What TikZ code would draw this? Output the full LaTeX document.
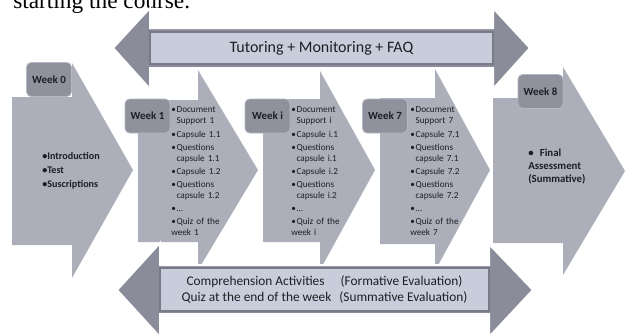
\documentclass[tikz,border=0pt]{standalone}
\usepackage{fontspec}
\setmainfont{Carlito}
\newfontfamily\paperfont{Liberation Serif}
\usepackage{tikz}
\usetikzlibrary{positioning}
\definecolor{chevGray}{RGB}{172,175,186}
\definecolor{labGray}{RGB}{143,146,157}
\definecolor{labEdge}{RGB}{182,185,195}
\definecolor{headGray}{RGB}{138,141,153}
\definecolor{bandFill}{RGB}{200,205,220}
\definecolor{bandEdge}{RGB}{120,123,135}
\definecolor{inkGray}{RGB}{30,30,35}
% bullet item with hanging indent (break lines with \newline)
\newcommand{\itm}[1][4pt]{\par\hangindent=#1\hangafter=1\noindent\makebox[#1][l]{\textbullet}}

\begin{document}
\begin{tikzpicture}[
            x=0.75pt, y=-0.75pt,
            % Define Block Styles
            chev/.style={
                fill=chevGray,
                draw=none
            },
            bigarrow/.style={
                fill=headGray,
                draw=white,
                line width=1.5pt
            },
            wklabel/.style={
                rectangle,
                rounded corners=3.5pt,
                fill=labGray,
                draw=labEdge,
                line width=0.6pt,
                minimum width=33.75pt,
                minimum height=25.5pt,
                inner sep=0pt,
                text=inkGray,
                font=\fontsize{8.2}{10}\selectfont\bfseries
            },
            wklist/.style={
                anchor=north west,
                inner sep=0pt,
                text width=42pt,
                align=left,
                text=inkGray,
                font=\fontsize{6.9}{8.25}\selectfont\setlength{\parskip}{1.6pt}
            },
            band/.style={
                rectangle,
                fill=bandFill,
                draw=bandEdge,
                line width=0.8pt,
                inner sep=0pt,
                text=inkGray,
                align=center
            }
        ]
        \useasboundingbox (0,0) rectangle (628,333);
        \clip (0,0) rectangle (628,333);

        % --- Cut-off caption line of the page ---
        \node [anchor=base west, inner sep=0pt, font=\paperfont\fontsize{17.5}{20}\selectfont] (caption) at (13,8.5) {starting the course.};

        % --- Week chevrons ---
        \path [chev] (12,97) -- (72,97) -- (72,63) -- (133,170) -- (72,278) -- (72,245) -- (12,245) -- cycle;
        \path [chev] (138,100) -- (198,100) -- (198,70) -- (258,170) -- (198,270) -- (198,242) -- (138,242) -- cycle;
        \path [chev] (263,99) -- (320,99) -- (320,71) -- (375,170) -- (320,270) -- (320,242) -- (263,242) -- cycle;
        \path [chev] (380,98) -- (435,98) -- (435,69) -- (490,170) -- (435,271) -- (435,244) -- (380,244) -- cycle;
        \path [chev] (493,98) -- (563,98) -- (563,67) -- (625,171) -- (563,275) -- (563,243) -- (493,243) -- cycle;

        % --- Week labels ---
        \node [wklabel] (w0) at (49,79.5) {Week 0};
        \node [wklabel] (w1) at (147.5,116) {Week 1};
        \node [wklabel] (wi) at (267.5,116) {Week i};
        \node [wklabel] (w7) at (385,116) {Week 7};
        \node [wklabel] (w8) at (540.5,91.5) {Week 8};

        % --- Contents ---
        \node [anchor=west, inner sep=0pt, align=left, text=inkGray, font=\fontsize{7.6}{10.5}\selectfont\bfseries] (intro) at (42,171)
            {\textbullet Introduction\\\textbullet Test\\\textbullet Suscriptions};
        \node [wklist] (l1) at (171,99.5)
            {\itm Document\newline Support 1\itm Capsule 1.1\itm Questions\newline capsule 1.1\itm Capsule 1.2\itm Questions\newline capsule 1.2\itm \dots\itm Quiz of the\newline week 1};
        \node [wklist] (li) at (291,99.5)
            {\itm Document\newline Support i\itm Capsule i.1\itm Questions\newline capsule i.1\itm Capsule i.2\itm Questions\newline capsule i.2\itm \dots\itm Quiz of the\newline week i};
        \node [wklist] (l7) at (410,99.5)
            {\itm Document\newline Support 7\itm Capsule 7.1\itm Questions\newline capsule 7.1\itm Capsule 7.2\itm Questions\newline capsule 7.2\itm \dots\itm Quiz of the\newline week 7};
        \node [anchor=west, inner sep=0pt, text width=60pt, align=left, text=inkGray, font=\fontsize{8.1}{9.75}\selectfont\bfseries] (final) at (528,164)
            {\itm[6pt] Final\newline Assessment\newline (Summative)};

        % --- Double arrows ---
        \path [bigarrow] (113,48) -- (150,8) -- (150,28) -- (493,28) -- (493,8) -- (530,48) -- (493,89) -- (493,68) -- (150,68) -- (150,89) -- cycle;
        \node [band, minimum width=257.25pt, minimum height=24pt, font=\fontsize{12}{14}\selectfont] (tutor) at (321.5,48)
            {Tutoring + Monitoring + FAQ};
        \path [bigarrow] (117,290) -- (160,243) -- (160,265) -- (489,265) -- (489,244) -- (533,290) -- (489,337) -- (489,314) -- (160,314) -- (160,337) -- cycle;
        \node [band, minimum width=246.75pt, minimum height=32.25pt, font=\fontsize{10}{12}\selectfont] (evalbox) at (324.5,289.5)
            {Comprehension Activities\hspace{1.2em}(Formative Evaluation)\\Quiz at the end of the week\hspace{0.6em}(Summative Evaluation)};

\end{tikzpicture}
\end{document}
